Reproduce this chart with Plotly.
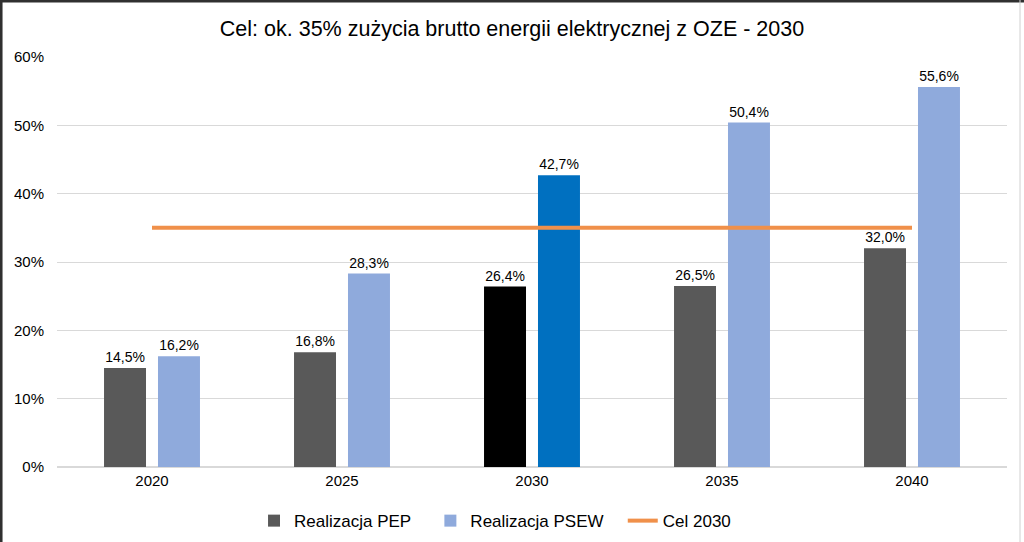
import plotly.graph_objects as go

years = ["2020", "2025", "2030", "2035", "2040"]
pep = [0.145, 0.168, 0.264, 0.265, 0.320]
psew = [0.162, 0.283, 0.427, 0.504, 0.556]
cel = [0.35, 0.35, 0.35, 0.35, 0.35]

pep_colors = ["#595959", "#595959", "#000000", "#595959", "#595959"]
psew_colors = ["#8faadc", "#8faadc", "#0070c0", "#8faadc", "#8faadc"]

font = "Liberation Sans, Arial, sans-serif"
pad = "\u00a0\u00a0\u00a0"  # widen legend spacing like the original

fig = go.Figure()

fig.add_trace(go.Bar(
    x=years, y=pep, name="Realizacja PEP" + pad,
    marker=dict(color=pep_colors, line=dict(width=0)),
    texttemplate="%{y:.1%}", textposition="outside",
    textfont=dict(size=14, color="#000000"), cliponaxis=False,
))
fig.add_trace(go.Bar(
    x=years, y=psew, name="Realizacja PSEW" + pad,
    marker=dict(color=psew_colors, line=dict(width=0)),
    texttemplate="%{y:.1%}", textposition="outside",
    textfont=dict(size=14, color="#000000"), cliponaxis=False,
))
fig.add_trace(go.Scatter(
    x=years, y=cel, name="Cel 2030", mode="lines",
    line=dict(color="#f0904a", width=4),
))

# frame lines around the picture (paper coords relative to plot area 57..1007 x 57..467)
fig.update_layout(
    width=1024, height=542,
    separators=", ",
    paper_bgcolor="white", plot_bgcolor="white",
    font=dict(family=font, color="#000000"),
    title=dict(text="Cel: ok. 35% zużycia brutto energii elektrycznej z OZE - 2030",
               x=0.5, xanchor="center", y=0.947, yanchor="middle",
               font=dict(size=21.5, family=font, color="#000000")),
    margin=dict(l=57, r=17, t=57, b=75, autoexpand=False),
    barmode="group", bargap=0.432, bargroupgap=0.222,
    showlegend=True,
    legend=dict(orientation="h", x=0.2074, xanchor="left", y=-0.088, yanchor="top",
                font=dict(size=17, family=font), traceorder="normal",
                itemwidth=30),
    xaxis=dict(type="category", showgrid=False, showline=True, linecolor="#d9d9d9",
               linewidth=1, ticks="", tickfont=dict(size=15), automargin=False),
    yaxis=dict(range=[0, 0.6], dtick=0.1, tickformat=".0%", showgrid=True,
               gridcolor="#d9d9d9", gridwidth=1, zeroline=True, zerolinecolor="#d9d9d9",
               showline=False, ticks="", tickfont=dict(size=15), ticklabelstandoff=12,
               automargin=False),
    shapes=[
        dict(type="line", xref="paper", yref="paper", x0=-0.0589, x1=-0.0589, y0=-0.19, y1=1.14,
             line=dict(color="#303030", width=3)),
        dict(type="line", xref="paper", yref="paper", x0=-0.06, x1=1.02, y0=1.1366, y1=1.1366,
             line=dict(color="#303030", width=3)),
        dict(type="line", xref="paper", yref="paper", x0=1.0137, x1=1.0137, y0=-0.19, y1=1.14,
             line=dict(color="#d0d0d0", width=1)),
    ],
)

fig.write_html("out.html", config={"displayModeBar": False},
               post_script="document.body.style.margin = '0';")
